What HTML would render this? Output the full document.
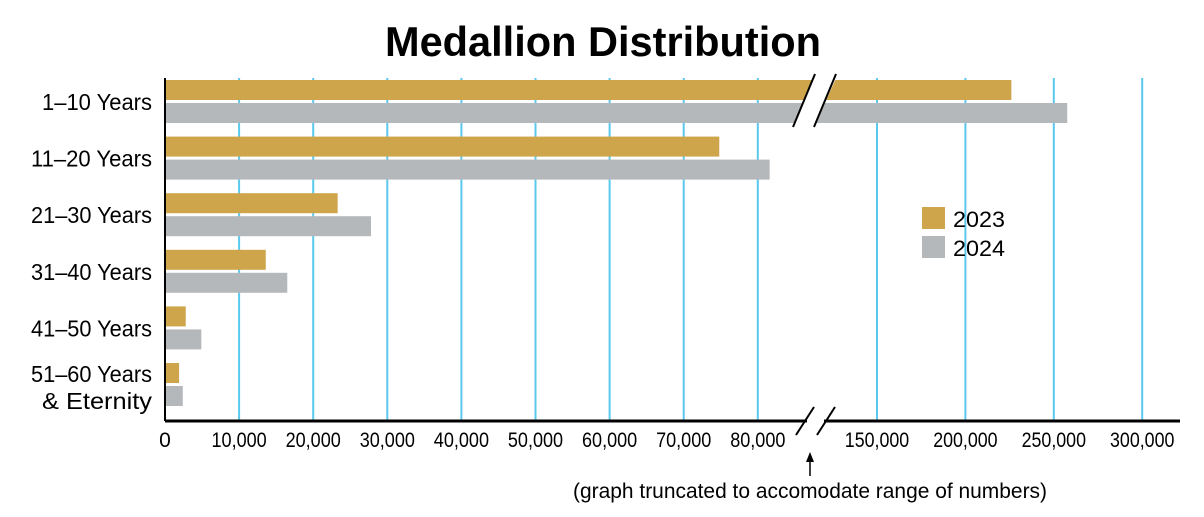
<!DOCTYPE html>
<html><head><meta charset="utf-8"><style>
html,body{margin:0;padding:0;background:#fff;}
svg{display:block;font-family:"Liberation Sans",sans-serif;}
</style></head><body>
<svg id="chart" width="1204" height="517" viewBox="0 0 1204 517" xmlns="http://www.w3.org/2000/svg">
<text x="603" y="56" text-anchor="middle" font-size="42" font-weight="bold" textLength="436" lengthAdjust="spacingAndGlyphs">Medallion Distribution</text>
<g id="grid"></g><g id="bars"></g><g id="axes"></g><g id="labels"></g>
<g>
<rect x="922" y="207" width="23" height="22" fill="#CFA54B"/>
<text x="953" y="227" font-size="22" textLength="52" lengthAdjust="spacingAndGlyphs">2023</text>
<rect x="922" y="236" width="23" height="22" fill="#B5B8BB"/>
<text x="953" y="256" font-size="22" textLength="52" lengthAdjust="spacingAndGlyphs">2024</text>
</g>
<text x="810" y="498" text-anchor="middle" font-size="21" textLength="474" lengthAdjust="spacingAndGlyphs">(graph truncated to accomodate range of numbers)</text>
<line x1="810" y1="476" x2="810" y2="458" stroke="#000" stroke-width="1.5"/>
<polygon points="810,452 806,462 814,462" fill="#000"/>
</svg>
<script>
const categories=["1–10 Years","11–20 Years","21–30 Years","31–40 Years","41–50 Years","51–60 Years|& Eternity"];
const values2023=[226000,74800,23300,13600,2800,1900];
const values2024=[257600,81600,27800,16500,4900,2400];
const lowTicks=[0,10000,20000,30000,40000,50000,60000,70000,80000];
const highTicks=[150000,200000,250000,300000];
const NS="http://www.w3.org/2000/svg";
const x0=165,lowScale=74.1/10000,hiX=877,hiScale=88.4/50000,breakV=87000;
function xOf(v){return v<=breakV?x0+v*lowScale:hiX+(v-150000)*hiScale;}
const topY=78,axisY=421,rowTop=80,pitch=56.6,barH=20,gap=3;
function mk(tag,attrs,parent){const e=document.createElementNS(NS,tag);for(const k in attrs)e.setAttribute(k,attrs[k]);parent.appendChild(e);return e;}
const grid=document.getElementById('grid'),bars=document.getElementById('bars'),axes=document.getElementById('axes'),labels=document.getElementById('labels');
function fmt(v){return v.toLocaleString('en-US');}
lowTicks.concat(highTicks).forEach(t=>{
  const x=xOf(t);
  if(t>0){const l=mk('line',{x1:x,x2:x,y1:topY,y2:axisY,stroke:'#5BC8EE','stroke-width':2},grid);
  
  }
  const s=fmt(t);
  const tx=mk('text',{x:x,y:447,'text-anchor':'middle','font-size':21},labels);
  if(s.length>1){tx.setAttribute('textLength',s.length*9.2);tx.setAttribute('lengthAdjust','spacingAndGlyphs');}
  tx.textContent=s;
  
  
});
categories.forEach((c,i)=>{
  const y=rowTop+i*pitch;
  [[values2023[i],'#CFA54B',y,'2023'],[values2024[i],'#B5B8BB',y+barH+gap,'2024']].forEach(([v,col,yy,yr])=>{
    const r=mk('rect',{x:x0,y:yy,width:xOf(v)-x0,height:barH,fill:col},bars);
    
    
  });
  const parts=c.split('|');
  parts.forEach((p,j)=>{
    const cy=parts.length>1?y+19+j*27:y+30;
    const t=mk('text',{x:152,y:cy,'text-anchor':'end','font-size':23,textLength:p.length*11,lengthAdjust:'spacingAndGlyphs'},labels);
    t.textContent=p;
    
    
  });
});
const bx=[805,826];
const wg=mk('polygon',{points:`${bx[0]+10},${topY-4} ${bx[1]+12},${topY-4} ${bx[1]-12},${rowTop+2*barH+gap+4} ${bx[0]-12},${rowTop+2*barH+gap+4}`,fill:'#fff'},axes);


bx.forEach((b,k)=>{
  const l=mk('line',{x1:b+10,y1:topY-4,x2:b-12,y2:rowTop+2*barH+gap+4,stroke:'#000','stroke-width':2},axes);
  
  
  const a=mk('line',{x1:b+9,y1:axisY-14,x2:b-9,y2:axisY+14,stroke:'#000','stroke-width':2},axes);
  
  
});
const va=mk('line',{x1:x0,x2:x0,y1:topY,y2:axisY,stroke:'#000','stroke-width':2},axes);


const h1=mk('line',{x1:x0,x2:bx[0]+2,y1:axisY,y2:axisY,stroke:'#000','stroke-width':3},axes);


const h2=mk('line',{x1:bx[1]-2,x2:1180,y1:axisY,y2:axisY,stroke:'#000','stroke-width':3},axes);


</script>
</body></html>
